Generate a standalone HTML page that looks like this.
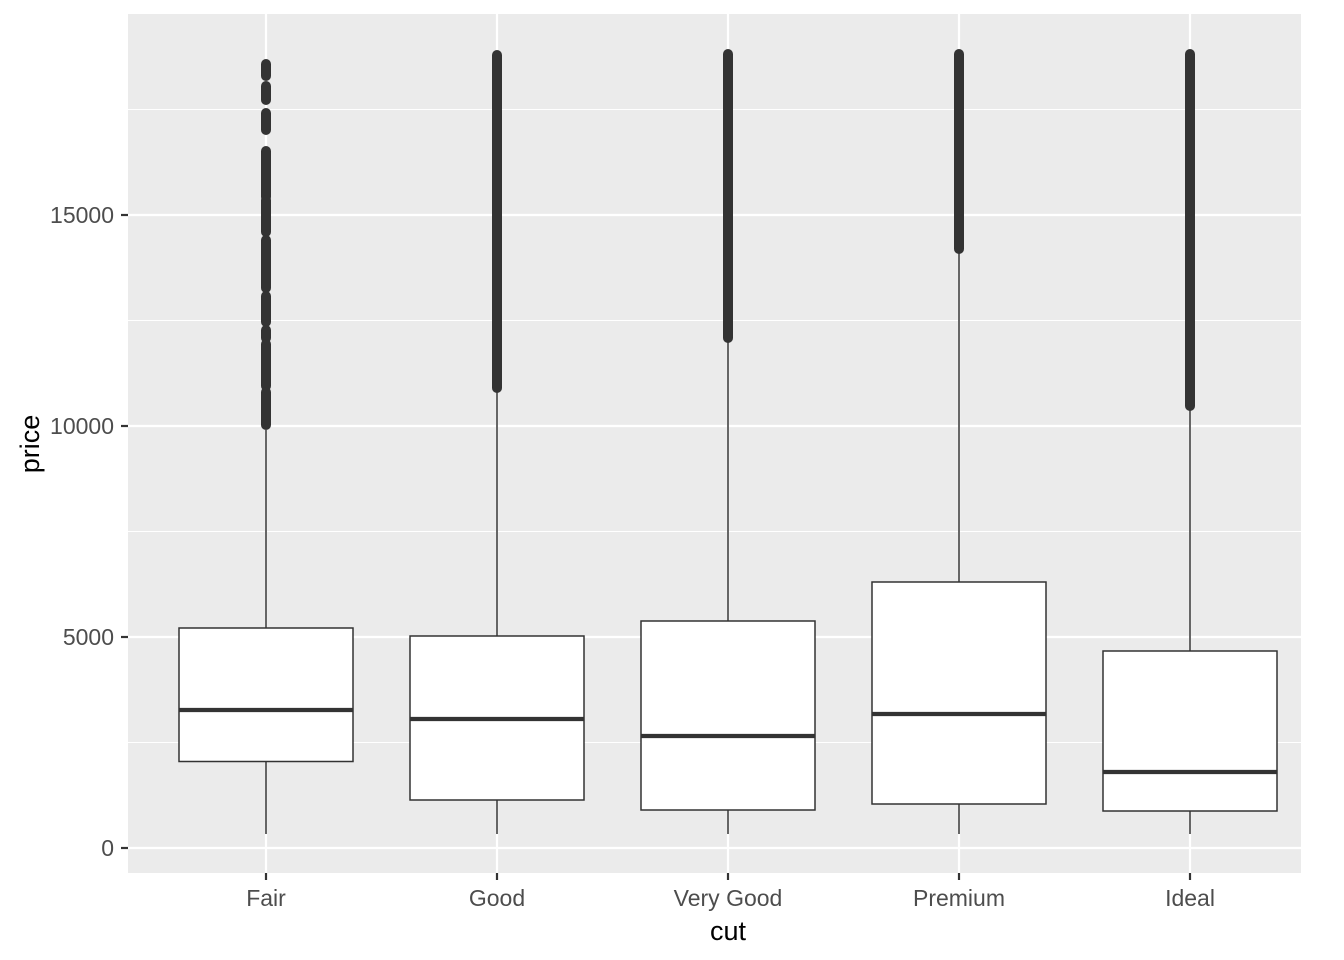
<!DOCTYPE html><html><head><style>body{margin:0;background:#fff}svg{display:block}text{font-family:"Liberation Sans",Arial,sans-serif}</style></head><body>
<svg width="1344" height="960" viewBox="0 0 1344 960">
<rect x="128" y="14" width="1173" height="859" fill="#ebebeb"/>
<g stroke="#fff" stroke-width="1.1">
<line x1="128" x2="1301" y1="742.5" y2="742.5"/><line x1="128" x2="1301" y1="531.5" y2="531.5"/><line x1="128" x2="1301" y1="320.5" y2="320.5"/><line x1="128" x2="1301" y1="109.5" y2="109.5"/>
</g>
<g stroke="#fff" stroke-width="2.2">
<line x1="128" x2="1301" y1="848" y2="848"/><line x1="128" x2="1301" y1="637" y2="637"/><line x1="128" x2="1301" y1="426" y2="426"/><line x1="128" x2="1301" y1="215" y2="215"/>
<line y1="14" y2="873" x1="266" x2="266"/><line y1="14" y2="873" x1="497" x2="497"/><line y1="14" y2="873" x1="728" x2="728"/><line y1="14" y2="873" x1="959" x2="959"/><line y1="14" y2="873" x1="1190" x2="1190"/>
</g>
<g stroke="#333" stroke-width="10" stroke-linecap="round">
<line x1="266" x2="266" y1="64" y2="76"/><line x1="266" x2="266" y1="86" y2="100"/><line x1="266" x2="266" y1="113" y2="130"/>
<line x1="266" x2="266" y1="151" y2="197"/><line x1="266" x2="266" y1="200" y2="232"/><line x1="266" x2="266" y1="240" y2="288"/><line x1="266" x2="266" y1="296" y2="322"/><line x1="266" x2="266" y1="330" y2="338"/><line x1="266" x2="266" y1="344" y2="386"/><line x1="266" x2="266" y1="392" y2="425"/>
<line x1="497" x2="497" y1="55" y2="388"/>
<line x1="728" x2="728" y1="54" y2="338"/>
<line x1="959" x2="959" y1="54" y2="249"/>
<line x1="1190" x2="1190" y1="54" y2="406"/>
</g>
<g stroke="#333" stroke-width="1.5" fill="#fff">
<line x1="266" x2="266" y1="430" y2="834"/><line x1="497" x2="497" y1="390" y2="834"/><line x1="728" x2="728" y1="340" y2="834"/><line x1="959" x2="959" y1="251" y2="834"/><line x1="1190" x2="1190" y1="408" y2="834"/>
<rect x="179" y="628" width="174" height="133.5"/>
<rect x="410" y="636" width="174" height="164"/>
<rect x="641" y="621" width="174" height="189"/>
<rect x="872" y="582" width="174" height="222"/>
<rect x="1103" y="651" width="174" height="160"/>
</g>
<g stroke="#333" stroke-width="4.3">
<line x1="179" x2="353" y1="710" y2="710"/><line x1="410" x2="584" y1="719" y2="719"/><line x1="641" x2="815" y1="736" y2="736"/><line x1="872" x2="1046" y1="714" y2="714"/><line x1="1103" x2="1277" y1="772" y2="772"/>
</g>
<g stroke="#333" stroke-width="2.2">
<line x1="121" x2="128" y1="848" y2="848"/><line x1="121" x2="128" y1="637" y2="637"/><line x1="121" x2="128" y1="426" y2="426"/><line x1="121" x2="128" y1="215" y2="215"/>
<line x1="266" x2="266" y1="873" y2="880"/><line x1="497" x2="497" y1="873" y2="880"/><line x1="728" x2="728" y1="873" y2="880"/><line x1="959" x2="959" y1="873" y2="880"/><line x1="1190" x2="1190" y1="873" y2="880"/>
</g>
<g fill="#4d4d4d" font-size="23" text-anchor="end">
<text x="114" y="856">0</text><text x="114" y="645">5000</text><text x="114" y="434">10000</text><text x="114" y="223">15000</text>
</g>
<g fill="#4d4d4d" font-size="23" text-anchor="middle">
<text x="266" y="906">Fair</text><text x="497" y="906">Good</text><text x="728" y="906">Very Good</text><text x="959" y="906">Premium</text><text x="1190" y="906">Ideal</text>
</g>
<text x="728" y="940" font-size="27" text-anchor="middle">cut</text>
<text transform="translate(39,444) rotate(-90)" font-size="27" text-anchor="middle">price</text>
</svg></body></html>
